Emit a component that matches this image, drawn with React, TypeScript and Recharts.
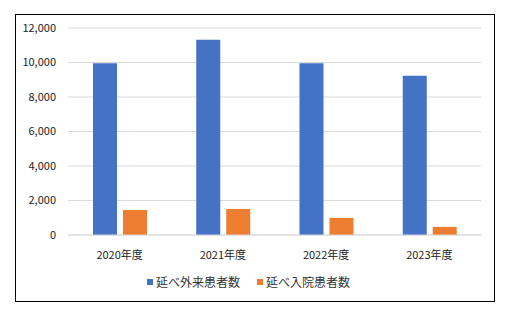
import { BarChart, Bar, XAxis, YAxis, CartesianGrid, Legend } from 'recharts';

const years = ['2020年度', '2021年度', '2022年度', '2023年度'];
const outpatients = [9950, 11320, 9950, 9230];
const inpatients = [1450, 1510, 990, 470];
const yTicks = [0, 2000, 4000, 6000, 8000, 10000, 12000];

const seriesNames = ['延べ外来患者数', '延べ入院患者数'];
const colors = ['#4472C4', '#ED7D31'];

const data = years.map((y, i) => ({
  year: y,
  outpatients: outpatients[i],
  inpatients: inpatients[i],
}));

const font = '"Noto Sans CJK JP", "Noto Sans", sans-serif';

function LegendContent() {
  return (
    <div
      style={{
        display: 'flex',
        justifyContent: 'center',
        gap: 17,
        paddingTop: 4,
        fontFamily: font,
        fontSize: 12,
        color: '#333',
      }}
    >
      {seriesNames.map((name, i) => (
        <div key={name} style={{ display: 'flex', alignItems: 'center' }}>
          <span style={{ width: 6, height: 6, background: colors[i], marginRight: 3, display: 'inline-block' }} />
          <span>{name}</span>
        </div>
      ))}
    </div>
  );
}

export default function App() {
  return (
    <div
      style={{
        position: 'absolute',
        left: 15,
        top: 14,
        width: 478,
        height: 286,
        border: '1px solid #000',
        background: '#fff',
      }}
    >
      <BarChart
        width={478}
        height={286}
        data={data}
        margin={{ top: 13, right: 13, left: 0, bottom: 4 }}
        barGap={6}
        barSize={24}
      >
        <CartesianGrid vertical={false} stroke="#d9d9d9" />
        <XAxis
          dataKey="year"
          axisLine={{ stroke: '#d9d9d9' }}
          tickLine={false}
          tickMargin={10}
          height={34}
          tick={{ fill: '#222', fontSize: 11, fontFamily: font }}
        />
        <YAxis
          width={52}
          domain={[0, 12000]}
          ticks={yTicks}
          axisLine={false}
          tickLine={false}
          tickSize={0}
          tickMargin={12}
          tickFormatter={(v: number) => v.toLocaleString('en-US')}
          tick={{ fill: '#222', fontSize: 11, fontFamily: font }}
        />
        <Legend verticalAlign="bottom" content={<LegendContent />} wrapperStyle={{ height: 28 }} />
        <Bar dataKey="outpatients" name={seriesNames[0]} fill={colors[0]} isAnimationActive={false} />
        <Bar dataKey="inpatients" name={seriesNames[1]} fill={colors[1]} isAnimationActive={false} />
      </BarChart>
    </div>
  );
}
